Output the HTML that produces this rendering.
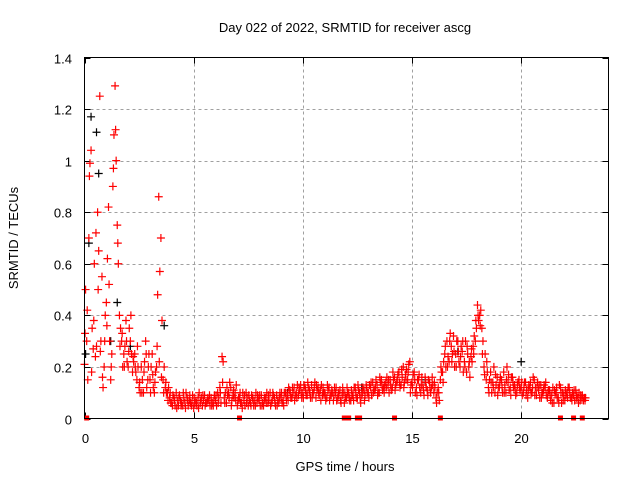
<!DOCTYPE html>
<html><head><meta charset="utf-8"><style>
body{margin:0;background:#fff;}
svg text{font-family:"Liberation Sans",sans-serif;font-size:13px;fill:#000;}
</style></head><body>
<svg id="chart" width="640" height="480" xmlns="http://www.w3.org/2000/svg">
<text x="345" y="32" text-anchor="middle">Day 022 of 2022, SRMTID for receiver ascg</text>
<text x="345" y="471" text-anchor="middle">GPS time / hours</text>
<text x="18" y="238" text-anchor="middle" transform="rotate(-90 18 238)">SRMTID / TECUs</text>
<g id="grid"></g>
<g id="ticks"></g>
<g id="marks"></g>
<rect x="84.5" y="57.5" width="524" height="361" fill="none" stroke="#000" stroke-width="1"/>
</svg>
<script>
const xTicks=[0,5,10,15,20];
const yTicks=[0,0.2,0.4,0.6,0.8,1,1.2,1.4];
const yTickLabels=["0","0.2","0.4","0.6","0.8","1","1.2","1.4"];
const redA=[0.21,0.3,0.7,1.04,0.27,0.24,0.8,1.25,0.55,0.2,
0.45,0.82,0.15,0.9,1.29,0.75,0.4,0.3,0.25,0.38,
0.2,0.3,0.18,0.25,0.15,0.12,0.2,0.1,0.3,0.15,
0.15,0.25,0.1,0.2,0.86,0.7,0.15,0.12,0.1,0.08,
0.06,0.08,0.1,0.05,0.07,0.05,0.06,0.08,0.07,0.05,
0.04,0.07,0.08,0.06,0.05,0.09,0.06,0.07,0.08,0.05,
0.07,0.1,0.12,0.24,0.08,0.06,0.1,0.12,0.09,0.1,
0.05,0.08,0.06,0.07,0.1,0.05,0.06,0.08,0.07,0.06,
0.07,0.09,0.05,0.08,0.06,0.1,0.07,0.08,0.09,0.06,
0.08,0.07,0.1,0.09,0.11,0.08,0.12,0.1,0.09,0.13,
0.1,0.12,0.09,0.11,0.13,0.1,0.08,0.12,0.11,0.09,
0.1,0.08,0.12,0.09,0.07,0.1,0.08,0.11,0.09,0.06,
0.08,0.1,0.07,0.09,0.12,0.08,0.1,0.09,0.11,0.13,
0.1,0.12,0.14,0.11,0.13,0.1,0.15,0.12,0.14,0.13,
0.15,0.12,0.16,0.14,0.18,0.13,0.2,0.17,0.15,0.22,
0.14,0.18,0.12,0.15,0.1,0.13,0.16,0.11,0.14,0.12,
0.1,0.08,0.12,0.15,0.18,0.25,0.3,0.22,0.28,0.32,
0.25,0.3,0.2,0.26,0.22,0.18,0.2,0.24,0.28,0.3,
0.44,0.4,0.35,0.2,0.15,0.12,0.18,0.14,0.1,0.16,
0.12,0.15,0.18,0.1,0.14,0.12,0.16,0.13,0.1,0.15,
0.12,0.1,0.14,0.08,0.12,0.1,0.15,0.09,0.11,0.13,
0.1,0.12,0.08,0.11,0.09,0.06,0.1,0.08,0.12,0.1,
0.07,0.1,0.12,0.08,0.09,0.11,0.08,0.07,0.09,0.08];
const redB=[0.5,0.15,0.99,0.35,0.6,0.28,0.65,0.3,0.12,0.4,
0.62,0.3,0.25,1.1,1.0,0.6,0.35,0.2,0.28,0.22,
0.35,0.25,0.22,0.18,0.2,0.1,0.15,0.22,0.12,0.25,
0.2,0.12,0.18,0.48,0.57,0.38,0.2,0.1,0.12,0.06,
0.09,0.05,0.07,0.09,0.06,0.08,0.1,0.05,0.06,0.09,
0.06,0.05,0.1,0.08,0.07,0.06,0.08,0.05,0.06,0.09,
0.05,0.08,0.06,0.22,0.1,0.09,0.14,0.07,0.08,0.13,
0.08,0.06,0.1,0.05,0.08,0.07,0.09,0.05,0.1,0.08,
0.05,0.06,0.08,0.1,0.07,0.06,0.09,0.05,0.07,0.1,
0.06,0.1,0.07,0.12,0.08,0.1,0.09,0.13,0.11,0.08,
0.13,0.09,0.12,0.08,0.1,0.14,0.11,0.09,0.13,0.1,
0.07,0.11,0.09,0.1,0.12,0.07,0.09,0.06,0.1,0.08,
0.1,0.07,0.09,0.12,0.08,0.11,0.06,0.12,0.09,0.1,
0.13,0.09,0.11,0.15,0.1,0.14,0.11,0.13,0.16,0.1,
0.11,0.15,0.13,0.17,0.12,0.16,0.14,0.19,0.21,0.13,
0.17,0.1,0.15,0.12,0.16,0.09,0.12,0.15,0.1,0.13,
0.12,0.1,0.07,0.18,0.22,0.2,0.24,0.33,0.25,0.2,
0.3,0.22,0.28,0.18,0.3,0.25,0.16,0.22,0.32,0.35,
0.38,0.42,0.3,0.25,0.18,0.15,0.1,0.2,0.13,0.12,
0.16,0.1,0.13,0.2,0.11,0.16,0.12,0.09,0.14,0.11,
0.09,0.14,0.11,0.13,0.1,0.16,0.12,0.14,0.08,0.1,
0.13,0.09,0.11,0.07,0.12,0.1,0.08,0.13,0.06,0.09,
0.09,0.12,0.08,0.1,0.07,0.09,0.1,0.08,0.07,0.08];
const redC=[0.33,0.42,0.94,0.18,0.38,0.72,0.5,0.26,0.16,0.3,
0.36,0.52,0.2,0.97,1.12,0.68,0.28,0.33,0.2,0.3,
0.26,0.4,0.24,0.2,0.28,0.14,0.1,0.18,0.25,0.2,
0.1,0.17,0.14,0.28,0.22,0.16,0.1,0.14,0.07,0.1,
0.05,0.07,0.04,0.08,0.05,0.1,0.04,0.07,0.09,0.06,
0.08,0.06,0.04,0.07,0.09,0.05,0.07,0.09,0.05,0.07,
0.09,0.06,0.1,0.14,0.06,0.12,0.08,0.05,0.11,0.07,
0.07,0.1,0.04,0.09,0.06,0.09,0.05,0.07,0.05,0.09,
0.09,0.05,0.07,0.06,0.09,0.05,0.1,0.06,0.05,0.08,
0.1,0.05,0.09,0.07,0.1,0.12,0.07,0.08,0.12,0.1,
0.08,0.11,0.14,0.1,0.08,0.12,0.13,0.1,0.07,0.12,
0.09,0.13,0.07,0.11,0.09,0.12,0.1,0.07,0.12,0.1,
0.12,0.08,0.11,0.07,0.1,0.13,0.08,0.1,0.07,0.12,
0.08,0.14,0.1,0.12,0.09,0.16,0.13,0.1,0.12,0.15,
0.13,0.18,0.11,0.15,0.14,0.19,0.12,0.15,0.18,0.1,
0.12,0.15,0.09,0.17,0.13,0.11,0.14,0.09,0.12,0.16,
0.14,0.06,0.1,0.2,0.14,0.28,0.2,0.3,0.22,0.26,
0.2,0.26,0.24,0.3,0.2,0.28,0.22,0.27,0.25,0.38,
0.4,0.36,0.25,0.17,0.22,0.1,0.14,0.12,0.17,0.09,
0.14,0.12,0.1,0.15,0.17,0.09,0.14,0.11,0.13,0.12,
0.14,0.12,0.09,0.11,0.14,0.12,0.09,0.12,0.13,0.08,
0.11,0.14,0.1,0.09,0.06,0.11,0.12,0.06,0.1,0.07,
0.11,0.08,0.1,0.07,0.11,0.08,0.06,0.09,0.08,0.07];
const blackTimes=[0.05,0.2,0.3,0.55,0.65,1.2,1.5,2.1,3.65,9.3,12.7,15.6,17.1,20.0];
const blackValues=[0.25,0.68,1.17,1.11,0.95,0.3,0.45,0.28,0.36,0.1,0.12,0.15,0.26,0.22];
const zeroTimes=[0.1,7.1,11.9,12.1,12.5,12.6,14.2,16.3,21.8,22.4,22.8];

const X0=84.5,X1=608.5,Y0=418.5,Y1=57.5;
const xs=t=>X0+(t/24)*(X1-X0);
const ys=v=>Y0-(v/1.4)*(Y0-Y1);
const NS="http://www.w3.org/2000/svg";
function mk(tag,attrs,parent){const e=document.createElementNS(NS,tag);for(const k in attrs)e.setAttribute(k,attrs[k]);parent.appendChild(e);return e;}
const grid=document.getElementById('grid'),ticks=document.getElementById('ticks'),marks=document.getElementById('marks');
xTicks.forEach(t=>{const x=Math.round(xs(t))+0.5;
 if(t>0){const g=mk('line',{x1:x,x2:x,y1:Y1,y2:Y0,stroke:'#a0a0a0','stroke-dasharray':'3,3'},grid);}
 mk('line',{x1:x,x2:x,y1:Y0,y2:Y0-6,stroke:'#000'},ticks);mk('line',{x1:x,x2:x,y1:Y1,y2:Y1+6,stroke:'#000'},ticks);
 const l=mk('text',{x:x,y:443,'text-anchor':'middle'},ticks);l.textContent=t;
 
 });
yTicks.forEach((v,i)=>{const y=Math.round(ys(v))+0.5;
 if(v>0&&v<1.4){const g=mk('line',{x1:X0,x2:X1,y1:y,y2:y,stroke:'#a0a0a0','stroke-dasharray':'3,3'},grid);}
 mk('line',{x1:X0,x2:X0+6,y1:y,y2:y,stroke:'#000'},ticks);mk('line',{x1:X1,x2:X1-6,y1:y,y2:y,stroke:'#000'},ticks);
 const l=mk('text',{x:72,y:y+5,'text-anchor':'end'},ticks);l.textContent=yTickLabels[i];
 
 });
function plus(t,v,c){const x=xs(t),y=ys(v);
 const p=mk('path',{d:`M${x-4},${y}H${x+4}M${x},${y-4}V${y+4}`,stroke:c,'stroke-width':1.2,fill:'none'},marks);
 
 }
blackTimes.forEach((t,i)=>plus(t,blackValues[i],'#000'));
redA.forEach((v,i)=>plus(i*0.1,v,'#f00'));
redB.forEach((v,i)=>plus(i*0.1+0.05,v,'#f00'));
redC.forEach((v,i)=>plus(i*0.1+0.025,v,'#f00'));
zeroTimes.forEach(t=>{const r=mk('rect',{x:xs(t)-2.5,y:Y0-3,width:5,height:5,fill:'#f00'},marks);
 
 });
</script>
</body></html>
